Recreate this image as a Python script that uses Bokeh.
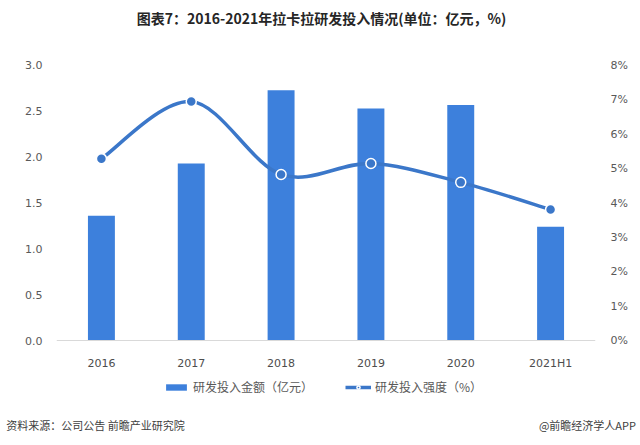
from bokeh.plotting import figure
from bokeh.models import (Range1d, LinearAxis, FixedTicker, PrintfTickFormatter,
                          Legend, LegendItem, Label, ColumnDataSource)
from bokeh.embed import file_html
from bokeh.resources import INLINE

# ---- data ----
years = ["2016", "2017", "2018", "2019", "2020", "2021H1"]
rd_amount = [1.36, 1.93, 2.73, 2.53, 2.57, 1.24]          # 亿元
rd_intensity = [5.29, 6.95, 4.83, 5.15, 4.60, 3.81]       # %
left_ticks = [0.0, 0.5, 1.0, 1.5, 2.0, 2.5, 3.0]
right_ticks = [0, 1, 2, 3, 4, 5, 6, 7, 8]

title_text = "图表7：2016-2021年拉卡拉研发投入情况(单位：亿元，%)"
legend_bar = "研发投入金额（亿元）"
legend_line = "研发投入强度（%）"
source_text = "资料来源：公司公告 前瞻产业研究院"
brand_text = "@前瞻经济学人APP"

BAR = "#3D80DC"
LINE = "#3B77C9"
TXT = "#595959"
CJK = "Noto Sans CJK SC"

xs = [i + 0.5 for i in range(len(years))]

# frame spans page y 0..405; value axis: 0 at y=340, 3.0 at y=65
Y0, Y1 = -0.709, 3.709
K = 8 / 3  # pct per amount unit on the shared scale

p = figure(width=640, height=445, x_range=Range1d(0, len(years)), y_range=Range1d(Y0, Y1),
           output_backend="svg", toolbar_location=None,
           min_border_left=56, min_border_right=45, min_border_top=0, min_border_bottom=40)
p.extra_y_ranges = {"pct": Range1d(Y0 * K, Y1 * K)}
p.outline_line_color = None
p.xgrid.visible = False
p.ygrid.visible = False
p.background_fill_color = "white"
p.border_fill_color = "white"

# bars
src = ColumnDataSource(dict(x=xs, amt=rd_amount, pct=rd_intensity))
bars = p.vbar(x="x", top="amt", width=0.3, source=src, fill_color=BAR, line_color=None)

# smooth line via bezier segments derived from data points
n = len(xs)
x0, y0, x1, y1, cx0, cy0, cx1, cy1 = [], [], [], [], [], [], [], []
for i in range(n - 1):
    pa = (xs[i - 1], rd_intensity[i - 1]) if i > 0 else (xs[i], rd_intensity[i])
    pb = (xs[i], rd_intensity[i])
    pc = (xs[i + 1], rd_intensity[i + 1])
    pd = (xs[i + 2], rd_intensity[i + 2]) if i + 2 < n else pc
    x0.append(pb[0]); y0.append(pb[1]); x1.append(pc[0]); y1.append(pc[1])
    cx0.append(pb[0] + (pc[0] - pa[0]) / 6); cy0.append(pb[1] + (pc[1] - pa[1]) / 6)
    cx1.append(pc[0] - (pd[0] - pb[0]) / 6); cy1.append(pc[1] - (pd[1] - pb[1]) / 6)
curve = p.bezier(x0=x0, y0=y0, x1=x1, y1=y1, cx0=cx0, cy0=cy0, cx1=cx1, cy1=cy1,
                 line_color=LINE, line_width=3.5, y_range_name="pct")
dots = p.scatter(x="x", y="pct", source=src, size=10, fill_color=LINE, line_color="white",
                 line_width=1.5, y_range_name="pct")

# axes
xa = p.xaxis[0]
xa.fixed_location = 0
xa.ticker = FixedTicker(ticks=xs)
xa.major_label_overrides = {x: y for x, y in zip(xs, years)}
xa.axis_line_color = "#D9D9D9"
xa.major_tick_line_color = None
xa.minor_tick_line_color = None
xa.major_label_text_color = "#4D4D4D"
xa.major_label_text_font = "DejaVu Sans"
xa.major_label_text_font_size = "11px"
xa.major_label_standoff = 10

ya = p.yaxis[0]
ya.ticker = FixedTicker(ticks=left_ticks)
ya.formatter = PrintfTickFormatter(format="%.1f")
ya.axis_line_color = None
ya.major_tick_line_color = None
ya.minor_tick_line_color = None
ya.major_label_text_color = TXT
ya.major_label_text_font = "DejaVu Sans"
ya.major_label_text_font_size = "11px"
ya.major_label_standoff = 8

ra = LinearAxis(y_range_name="pct", ticker=FixedTicker(ticks=right_ticks),
                formatter=PrintfTickFormatter(format="%d%%"))
ra.axis_line_color = None
ra.major_tick_line_color = None
ra.minor_tick_line_color = None
ra.major_label_text_color = TXT
ra.major_label_text_font = "DejaVu Sans"
ra.major_label_text_font_size = "11px"
ra.major_label_standoff = 9
p.add_layout(ra, "right")

# legend (inside the frame, below the x axis)
legend = Legend(items=[LegendItem(label=legend_bar, renderers=[bars]),
                       LegendItem(label=legend_line, renderers=[curve, dots])],
                orientation="horizontal", location=(107, 10),
                border_line_color=None, background_fill_alpha=0,
                label_text_font=CJK, label_text_font_size="12px", label_text_color=TXT,
                glyph_width=26, glyph_height=8, spacing=32, label_standoff=4,
                margin=0, padding=4)
p.add_layout(legend)

# texts
p.add_layout(Label(x=2.95, y=3.513, text=title_text, text_align="center", text_baseline="middle",
                   text_font=CJK, text_font_style="bold", text_font_size="14px", text_color="#262626"))
p.add_layout(Label(x=-0.56, y=-0.927, text=source_text, text_align="left", text_baseline="middle",
                   text_font=CJK, text_font_size="11px", text_color="#404040"), "below")
p.add_layout(Label(x=6.45, y=-0.927, text=brand_text, text_align="right", text_baseline="middle",
                   text_font=CJK, text_font_size="11px", text_color="#404040"), "below")

open("out.html", "w").write(file_html(p, INLINE))
